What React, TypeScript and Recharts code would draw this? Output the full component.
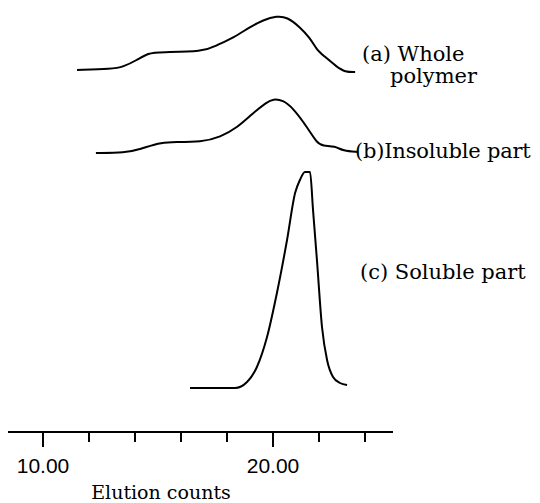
import React from 'react';
import { LineChart, Line, XAxis, YAxis, Label } from 'recharts';

// Elution counts (x) and detector response (arbitrary units above each trace's baseline)
const wholeCounts = [11.48, 13.0, 13.48, 14.09, 14.57, 15.09, 16.96, 17.57, 18.26, 19.0, 19.57, 20.17, 20.61, 21.17, 21.61, 21.91, 22.17, 22.78, 23.13, 23.57];
const wholeResponse = [2, 3, 5, 12, 19, 20, 20, 27, 34, 45, 52, 56, 55, 45, 34, 22, 17, 5, 0, 0];

const insolCounts = [12.3, 13.57, 14.22, 15.09, 15.39, 16.96, 17.7, 18.43, 19.13, 19.74, 20.0, 20.43, 20.87, 21.48, 21.91, 22.17, 22.7, 23.04, 23.7];
const insolResponse = [0, 0, 4, 10, 11, 11, 16, 25, 40, 51, 54, 53, 45, 26, 10, 7, 7, 2, 1];

const solCounts = [16.39, 18.35, 18.87, 19.3, 19.74, 20.17, 20.61, 20.96, 21.17, 21.39, 21.61, 21.74, 21.91, 22.13, 22.35, 22.61, 22.91, 23.22];
const solResponse = [0, 0, 6, 21, 51, 95, 148, 195, 208, 216, 216, 178, 128, 61, 28, 11, 5, 3];

const xTicks = [10, 12, 14, 16, 18, 20, 22, 24];
const majorTicks = [10, 20];
const tickLabels: Record<number, string> = { 10: '10.00', 20: '20.00' };

const toRows = (xs: number[], ys: number[]) => xs.map((x, i) => ({ x, y: ys[i] }));
const wholeData = toRows(wholeCounts, wholeResponse);
const insolData = toRows(insolCounts, insolResponse);
const solData = toRows(solCounts, solResponse);

const CustomTick = (props: any) => {
  const { x, y, payload } = props;
  const v = payload.value;
  const major = majorTicks.includes(v);
  return (
    <g>
      <line x1={x} y1={y} x2={x} y2={y + (major ? 15 : 10)} stroke="#000" strokeWidth={2} />
      {major && (
        <text x={x} y={y + 41} textAnchor="middle" fontFamily="'Liberation Sans', Arial, sans-serif" fontSize={21} fill="#000">
          {tickLabels[v]}
        </text>
      )}
    </g>
  );
};

const AxisTitle = (props: any) => {
  const vb = props.viewBox || { x: 0, y: 424 };
  return (
    <text x={vb.x + 153} y={vb.y + 67} textAnchor="middle" fontFamily="'DejaVu Serif', serif" fontSize={19} fill="#000">
      Elution counts
    </text>
  );
};

const labelStyle: React.CSSProperties = {
  position: 'absolute',
  fontFamily: "'DejaVu Serif', serif",
  fontSize: 21,
  color: '#000',
  whiteSpace: 'nowrap',
  lineHeight: '21px',
};

export default function App() {
  return (
    <div style={{ position: 'relative', width: 532, height: 495 }}>
      <LineChart width={532} height={495} margin={{ top: 0, right: 147, bottom: 0, left: 0 }}>
        <XAxis
          dataKey="x"
          type="number"
          domain={[8.478, 25.217]}
          allowDataOverflow
          ticks={xTicks}
          interval={0}
          height={71}
          tickSize={0}
          tickMargin={0}
          tickLine={false}
          axisLine={{ stroke: '#000', strokeWidth: 2 }}
          tick={<CustomTick />}
        >
          <Label content={<AxisTitle />} />
        </XAxis>
        <YAxis yAxisId="a" hide type="number" domain={[-360, 64]} />
        <YAxis yAxisId="b" hide type="number" domain={[-279, 145]} />
        <YAxis yAxisId="c" hide type="number" domain={[-44, 380]} />
        <Line yAxisId="a" data={wholeData} dataKey="y" type="basis" stroke="#000" strokeWidth={2} dot={false} isAnimationActive={false} />
        <Line yAxisId="b" data={insolData} dataKey="y" type="basis" stroke="#000" strokeWidth={2} dot={false} isAnimationActive={false} />
        <Line yAxisId="c" data={solData} dataKey="y" type="monotone" stroke="#000" strokeWidth={2} dot={false} isAnimationActive={false} />
      </LineChart>
      <div style={{ ...labelStyle, left: 354, top: 36 }}>(a) Whole</div>
      <div style={{ ...labelStyle, left: 382, top: 58 }}>polymer</div>
      <div style={{ ...labelStyle, left: 347, top: 133, letterSpacing: -0.2 }}>(b)Insoluble part</div>
      <div style={{ ...labelStyle, left: 352, top: 254 }}>(c) Soluble part</div>
    </div>
  );
}
